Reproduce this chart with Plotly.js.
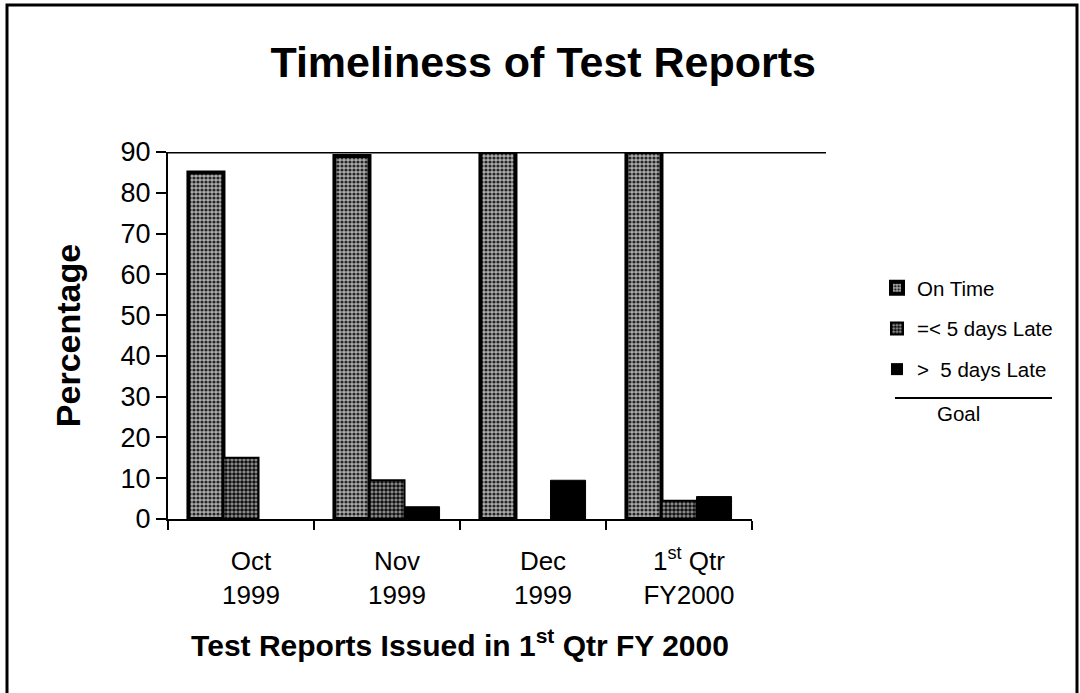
<!DOCTYPE html>
<html>
<head>
<meta charset="utf-8">
<script src="https://cdn.plot.ly/plotly-3.0.1.min.js"></script>
<style>
  html, body { margin: 0; padding: 0; background: #fff; }
  #chart { width: 1080px; height: 693px; }
</style>
</head>
<body>
<div id="chart"></div>
<script>
// ---- data ----
const categories = ['Oct<br>1999', 'Nov<br>1999', 'Dec<br>1999', '1<sup>st</sup> Qtr<br>FY2000'];
const onTime = [85, 89, 90, 90];
const lateUpTo5 = [15, 9.5, 0, 4.5];
const lateOver5 = [0, 3, 9.5, 5.5];
const goal = [90];
const seriesNames = ['On Time', '=&lt; 5 days Late', '&gt;  5 days Late'];
const goalLabel = 'Goal';

const FONT = 'Liberation Sans, Arial, Helvetica, sans-serif';

// plot area pixel geometry helpers (for paper coords of decorations)
const L = 168, R = 752, T = 152, B = 519;
const px = x => (x - L) / (R - L);
const py = y => (B - y) / (B - T);
const outline = (vals, w) => vals.map(v => (v > 0 ? w : 0));

const traces = [
  {
    type: 'bar', name: seriesNames[0], x: categories, y: onTime, legendgroup: 'a',
    marker: { color: '#999', line: { color: '#000', width: outline(onTime, 4) },
      pattern: { shape: '.', bgcolor: '#adadad', fgcolor: '#262626', size: 4, solidity: 0.5 } }
  },
  {
    type: 'bar', name: seriesNames[1], x: categories, y: lateUpTo5, legendgroup: 'b',
    marker: { color: '#777', line: { color: '#000', width: outline(lateUpTo5, 2) },
      pattern: { shape: '.', bgcolor: '#969696', fgcolor: '#111', size: 4, solidity: 0.62 } }
  },
  {
    type: 'bar', name: seriesNames[2], x: categories, y: lateOver5, legendgroup: 'c',
    marker: { color: '#000', line: { color: '#000', width: outline(lateOver5, 1) } }
  }
];

const layout = {
  width: 1080, height: 693,
  paper_bgcolor: '#fff', plot_bgcolor: '#fff',
  margin: { l: L, r: 1080 - R, t: T, b: 693 - B, pad: 0 },
  font: { family: FONT, color: '#000' },
  title: {
    text: 'Timeliness of Test Reports',
    font: { family: FONT, size: 43, weight: 700, color: '#000' },
    xref: 'container', x: 0.503, xanchor: 'center',
    yref: 'container', y: 1 - 62 / 693, yanchor: 'middle'
  },
  barmode: 'group',
  bargap: 0.28,
  bargroupgap: 0,
  showlegend: true,
  legend: {
    x: px(877), xanchor: 'left', y: py(268), yanchor: 'top',
    font: { family: FONT, size: 20.5, color: '#000' },
    traceorder: 'grouped', tracegroupgap: 11,
    bgcolor: 'rgba(0,0,0,0)', borderwidth: 0, itemwidth: 30
  },
  xaxis: {
    type: 'category',
    showline: true, linecolor: '#000', linewidth: 2,
    ticks: 'outside', tickson: 'boundaries', ticklen: 9, tickwidth: 2, tickcolor: '#000',
    tickfont: { family: FONT, size: 26, color: '#000' },
    ticklabelshift: 10, ticklabelstandoff: 18,
    showgrid: false, zeroline: false, fixedrange: true, automargin: false,
    title: {
      text: 'Test Reports Issued in 1<sup>st</sup> Qtr FY 2000',
      font: { family: FONT, size: 30, weight: 700, color: '#000' },
      standoff: 26
    }
  },
  yaxis: {
    range: [0, 90], dtick: 10, tick0: 0,
    showline: true, linecolor: '#000', linewidth: 2,
    ticks: 'outside', ticklen: 10, tickwidth: 2, tickcolor: '#000',
    tickfont: { family: FONT, size: 27, color: '#000' },
    showgrid: false, zeroline: false, fixedrange: true, automargin: false,
    title: {
      text: 'Percentage',
      font: { family: FONT, size: 34, weight: 700, color: '#000' },
      standoff: 30
    }
  },
  shapes: [
    // goal line at the goal value
    { type: 'line', xref: 'paper', yref: 'y', x0: 0, x1: px(826), y0: goal[0], y1: goal[0],
      line: { color: '#000', width: 3 }, layer: 'above' },
    // goal legend line
    { type: 'line', xref: 'paper', yref: 'paper', x0: px(895), x1: px(1052), y0: py(398), y1: py(398),
      line: { color: '#000', width: 2 } },
    // outer frame
    { type: 'rect', xref: 'paper', yref: 'paper', x0: px(7), x1: px(1077), y0: py(720), y1: py(5),
      line: { color: '#000', width: 3 }, fillcolor: 'rgba(0,0,0,0)' }
  ],
  annotations: [
    { text: goalLabel, xref: 'paper', yref: 'paper', x: px(958), y: py(413),
      xanchor: 'center', yanchor: 'middle', showarrow: false,
      font: { family: FONT, size: 20.5, color: '#000' } }
  ]
};

Plotly.newPlot('chart', traces, layout, { displayModeBar: false, staticPlot: true });
</script>
</body>
</html>
